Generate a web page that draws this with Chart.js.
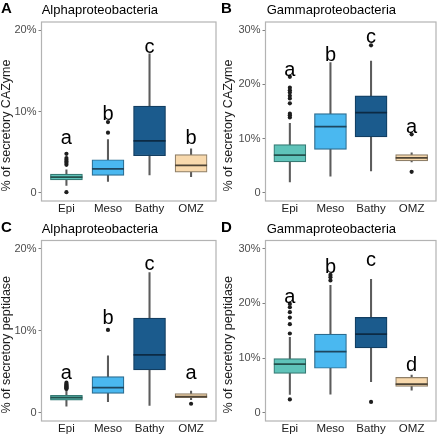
<!DOCTYPE html>
<html><head><meta charset="utf-8">
<script src="https://cdn.jsdelivr.net/npm/chart.js@4.4.1/dist/chart.umd.min.js"></script>
<style>
html,body{margin:0;padding:0;background:#fff;width:440px;height:435px;overflow:hidden}
canvas{position:absolute}
</style></head><body>
<canvas id="cA" style="left:0;top:0" width="220" height="217"></canvas>
<canvas id="cB" style="left:220px;top:0" width="220" height="217"></canvas>
<canvas id="cC" style="left:0;top:217px" width="220" height="218"></canvas>
<canvas id="cD" style="left:220px;top:217px" width="220" height="218"></canvas>
<script>
const categories = ['Epi', 'Meso', 'Bathy', 'OMZ'];

// Panel A: Alphaproteobacteria, secretory CAZyme (%)
const aLow  = [0.9, 1.4, 2.2, 2.0];
const aQ1   = [1.6, 2.14, 4.57, 2.55];
const aMed  = [1.94, 2.96, 6.4, 3.37];
const aQ3   = [2.3, 4.07, 10.66, 4.69];
const aHigh = [2.84, 6.56, 17.1, 5.4];
const aOut  = [[0.09, 3.45, 3.67, 3.86, 4.07, 4.28, 4.8], [7.4, 8.7], [], []];
const aLetters = ['a', 'b', 'c', 'b'];
const aLetterY = [6.05, 9.0, 17.16, 6.05];
const aTicks = [0, 10, 20];

// Panel B: Gammaproteobacteria, secretory CAZyme (%)
const bLow  = [2.03, 3.07, 4.06, 5.7];
const bQ1   = [5.72, 8.0, 10.3, 5.9];
const bMed  = [6.95, 12.2, 14.8, 6.45];
const bQ3   = [8.91, 14.6, 17.9, 7.07];
const bHigh = [12.8, 24.0, 24.3, 7.4];
const bOut  = [[13.9, 14.3, 14.6, 16.5, 17.4, 17.9, 18.5, 18.9, 19.4, 21.4], [], [27.2], [10.8, 3.87]];
const bLetters = ['a', 'b', 'c', 'a'];
const bLetterY = [21.5, 24.3, 27.6, 11.07];
const bTicks = [0, 10, 20, 30];

// Panel C: Alphaproteobacteria, secretory peptidase (%)
const cLow  = [0.82, 1.35, 0.9, 1.6];
const cQ1   = [1.55, 2.37, 5.22, 1.84];
const cMed  = [1.84, 3.06, 7.06, 1.96];
const cQ3   = [2.12, 4.4, 11.55, 2.33];
const cHigh = [2.78, 6.94, 17.1, 2.65];
const cOut  = [[2.9, 3.0, 3.1, 3.2, 3.3, 3.4, 3.5, 3.67], [10.1], [], [1.1]];
const cLetters = ['a', 'b', 'c', 'a'];
const cLetterY = [4.1, 10.83, 17.36, 4.1];
const cTicks = [0, 10, 20];

// Panel D: Gammaproteobacteria, secretory peptidase (%)
const dLow  = [3.37, 3.4, 5.67, 4.14];
const dQ1   = [7.2, 8.14, 11.88, 4.82];
const dMed  = [8.9, 11.2, 14.4, 5.25];
const dQ3   = [9.9, 14.4, 17.45, 6.48];
const dHigh = [13.8, 23.3, 24.4, 6.9];
const dOut  = [[2.45, 14.5, 16.2, 17.4, 18.4, 19.3, 19.9], [24.2, 24.8, 25.2], [1.99], []];
const dLetters = ['a', 'b', 'c', 'd'];
const dLetterY = [20.07, 25.6, 26.8, 7.68];
const dTicks = [0, 10, 20, 30];

const fills   = ['#5fc3b9', '#4ab8f0', '#1b5b8d', '#f8d9ad'];
const borders = ['#367a74', '#2b6b8f', '#123e62', '#8f7f68'];
const medCols = ['#24514d', '#1e4760', '#0c2a44', '#4e4436'];
const FONT = "'Liberation Sans', Arial, Helvetica, sans-serif";
const BOXW = 32;

function makePanel(id, p) {
  const decor = {
    id: 'decor_' + id,
    afterDatasetsDraw(chart) {
      const ctx = chart.ctx, xs = chart.scales.x, ys = chart.scales.y, ca = chart.chartArea;
      ctx.save();
      p.med.forEach((m, i) => {
        const x = xs.getPixelForValue(i), y = ys.getPixelForValue(m);
        ctx.strokeStyle = medCols[i]; ctx.lineWidth = 1.8;
        ctx.beginPath(); ctx.moveTo(x - BOXW / 2, y); ctx.lineTo(x + BOXW / 2, y); ctx.stroke();
      });
      ctx.strokeStyle = '#b3b3b3'; ctx.lineWidth = 1.2;
      ctx.strokeRect(ca.left, ca.top, ca.right - ca.left, ca.bottom - ca.top);
      ctx.fillStyle = '#000'; ctx.font = '20px ' + FONT;
      ctx.textAlign = 'center'; ctx.textBaseline = 'alphabetic';
      p.letters.forEach((l, i) => {
        ctx.fillText(l, xs.getPixelForValue(i), ys.getPixelForValue(p.letterY[i]));
      });
      ctx.restore();
    },
    afterDraw(chart) {
      const ctx = chart.ctx, ca = chart.chartArea;
      ctx.save();
      ctx.fillStyle = '#000'; ctx.textBaseline = 'alphabetic'; ctx.textAlign = 'left';
      ctx.font = 'bold 15px ' + FONT;
      ctx.fillText(p.panel, 1, p.letterBase);
      ctx.font = '13px ' + FONT;
      ctx.fillText(p.title, p.titleX, p.titleBase);
      ctx.translate(p.yTitleX, (ca.top + ca.bottom) / 2 + 14);
      ctx.rotate(-Math.PI / 2);
      ctx.textAlign = 'center'; ctx.textBaseline = 'middle';
      ctx.font = '12.5px ' + FONT; ctx.fillStyle = '#1a1a1a';
      ctx.fillText(p.yTitle, 0, 0);
      ctx.restore();
    }
  };
  const outPts = [];
  p.out.forEach((arr, i) => arr.forEach(v => outPts.push({ x: i, y: v })));
  return new Chart(document.getElementById(id), {
    type: 'bar',
    data: {
      datasets: [
        { type: 'bar', data: categories.map((c, i) => ({ x: i, y: [p.q1[i], p.q3[i]] })),
          backgroundColor: fills, borderColor: borders, borderWidth: 1.2, borderSkipped: false,
          barThickness: BOXW, grouped: false, order: 1 },
        { type: 'bar', data: categories.map((c, i) => ({ x: i, y: [p.low[i], p.high[i]] })),
          backgroundColor: '#5c5c5c', borderWidth: 0, barThickness: 1.4, grouped: false, order: 2 },
        { type: 'line', data: outPts, showLine: false, pointRadius: 2.1,
          pointBackgroundColor: '#1e1e1e', pointBorderWidth: 0, order: 0 }
      ]
    },
    options: {
      responsive: false, animation: false, events: [],
      layout: { padding: { top: p.T, right: p.R, left: 0, bottom: 0 } },
      plugins: { legend: { display: false }, tooltip: { enabled: false }, title: { display: false } },
      scales: {
        x: {
          type: 'linear', min: -0.6, max: 3.6, offset: false,
          grid: { display: false, drawTicks: false, tickLength: 0 }, border: { display: false },
          afterBuildTicks: s => { s.ticks = categories.map((c, i) => ({ value: i })); },
          afterFit: s => { s.height = p.Hx; },
          ticks: { callback: v => categories[v], autoSkip: false, maxRotation: 0, padding: p.xPad,
                   color: '#1a1a1a', font: { family: FONT, size: 11.5 } }
        },
        y: {
          min: p.min, max: p.max,
          grid: { drawOnChartArea: false, drawTicks: true, tickLength: 3, tickColor: '#7f7f7f' },
          border: { display: false },
          afterBuildTicks: s => { s.ticks = p.ticks.map(v => ({ value: v })); },
          afterFit: s => { s.width = p.Lw; },
          ticks: { callback: v => (v === 0 ? '0' : v + '%'), padding: 2,
                   color: '#4d4d4d', font: { family: FONT, size: 11 } }
        }
      }
    },
    plugins: [decor]
  });
}

makePanel('cA', { low: aLow, q1: aQ1, med: aMed, q3: aQ3, high: aHigh, out: aOut,
  letters: aLetters, letterY: aLetterY, ticks: aTicks, min: -1, max: 21,
  panel: 'A', title: 'Alphaproteobacteria', yTitle: '% of secretory CAZyme',
  T: 22, R: 4, Lw: 41.5, Hx: 16, xPad: 1, letterBase: 12.7, titleX: 41.7, titleBase: 13.5, yTitleX: 6.5 });
makePanel('cB', { low: bLow, q1: bQ1, med: bMed, q3: bQ3, high: bHigh, out: bOut,
  letters: bLetters, letterY: bLetterY, ticks: bTicks, min: -1.5, max: 31.5,
  panel: 'B', title: 'Gammaproteobacteria', yTitle: '% of secretory CAZyme',
  T: 22, R: 1, Lw: 45.5, Hx: 16, xPad: 1, letterBase: 12.7, titleX: 46.7, titleBase: 13.5, yTitleX: 8.5 });
makePanel('cC', { low: cLow, q1: cQ1, med: cMed, q3: cQ3, high: cHigh, out: cOut,
  letters: cLetters, letterY: cLetterY, ticks: cTicks, min: -1, max: 21,
  panel: 'C', title: 'Alphaproteobacteria', yTitle: '% of secretory peptidase',
  T: 23.5, R: 4, Lw: 41.5, Hx: 14, xPad: 1, letterBase: 14.7, titleX: 41.7, titleBase: 16.3, yTitleX: 6.5 });
makePanel('cD', { low: dLow, q1: dQ1, med: dMed, q3: dQ3, high: dHigh, out: dOut,
  letters: dLetters, letterY: dLetterY, ticks: dTicks, min: -1.5, max: 31.5,
  panel: 'D', title: 'Gammaproteobacteria', yTitle: '% of secretory peptidase',
  T: 23.5, R: 1, Lw: 45.5, Hx: 14, xPad: 1, letterBase: 14.7, titleX: 46.7, titleBase: 16.3, yTitleX: 8.5 });
</script>
</body></html>
